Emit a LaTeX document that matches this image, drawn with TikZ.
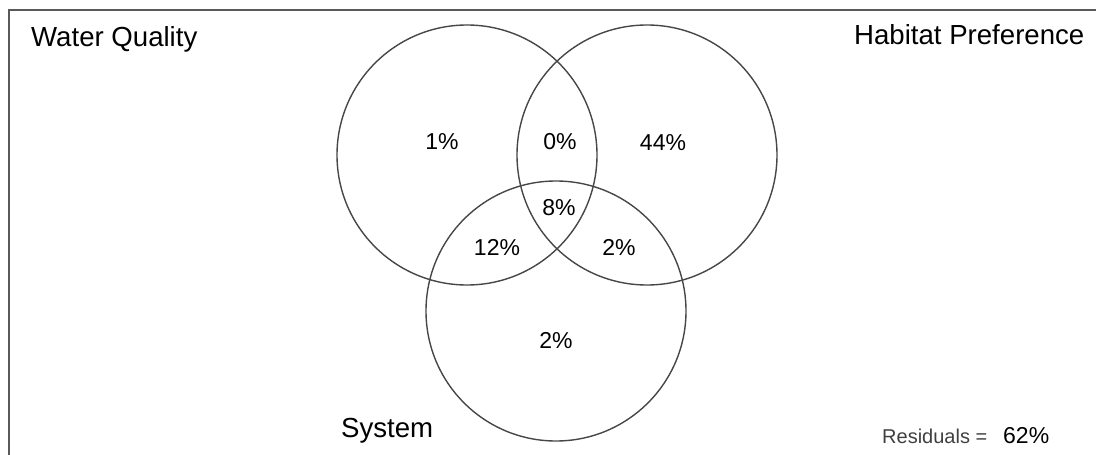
\documentclass[tikz,border=0pt]{standalone}
\usepackage{fontspec}
\setmainfont{Liberation Sans}
\usepackage{xcolor}
\definecolor{ringgray}{gray}{0.28}
\definecolor{framegray}{gray}{0.35}
\definecolor{resgray}{gray}{0.25}

\begin{document}
\begin{tikzpicture}[x=1pt,y=-1pt,
    set/.style={draw=ringgray, line width=1.4pt, circle, minimum size=260pt, inner sep=0pt},
    setname/.style={anchor=base west, inner sep=0pt, font=\fontsize{27.6}{32}\selectfont},
    share/.style={anchor=base, inner sep=0pt, font=\fontsize{23}{27}\selectfont}]
    \useasboundingbox (0,0) rectangle (1096,455);
    \coordinate (cornerTL) at (9,10); \coordinate (topR) at (1096,10);
    \coordinate (leftB) at (9,455);
    \draw[framegray, line width=1.6pt] (leftB) -- (cornerTL) -- (topR);
    \node[set] (WQ) at (467,155) {}; \node[set] (HP) at (647,155) {};
    \node[set] (SY) at (556,311) {};
    \node[setname] (WQname) at (31,46) {Water Quality};
    \node[setname] (HPname) at (854,45) {Habitat Preference};
    \node[setname] (SYname) at (341,437) {System};
    \node[share] (onlyWQ) at (442,149) {1\%}; \node[share] (WQHP) at (560,149) {0\%};
    \node[share] (onlyHP) at (663,150) {44\%}; \node[share] (all) at (559,215) {8\%};
    \node[share] (WQSY) at (497,255) {12\%}; \node[share] (HPSY) at (619,255) {2\%};
    \node[share] (onlySY) at (556,348) {2\%};
    \node[anchor=base west, inner sep=0pt, text=resgray,
      font=\fontsize{20}{24}\selectfont] (resid) at (882,443) {Residuals =};
    \node[anchor=base west, inner sep=0pt,
      font=\fontsize{23}{27}\selectfont] (residval) at (1003,443) {62\%};
\end{tikzpicture}
\end{document}
